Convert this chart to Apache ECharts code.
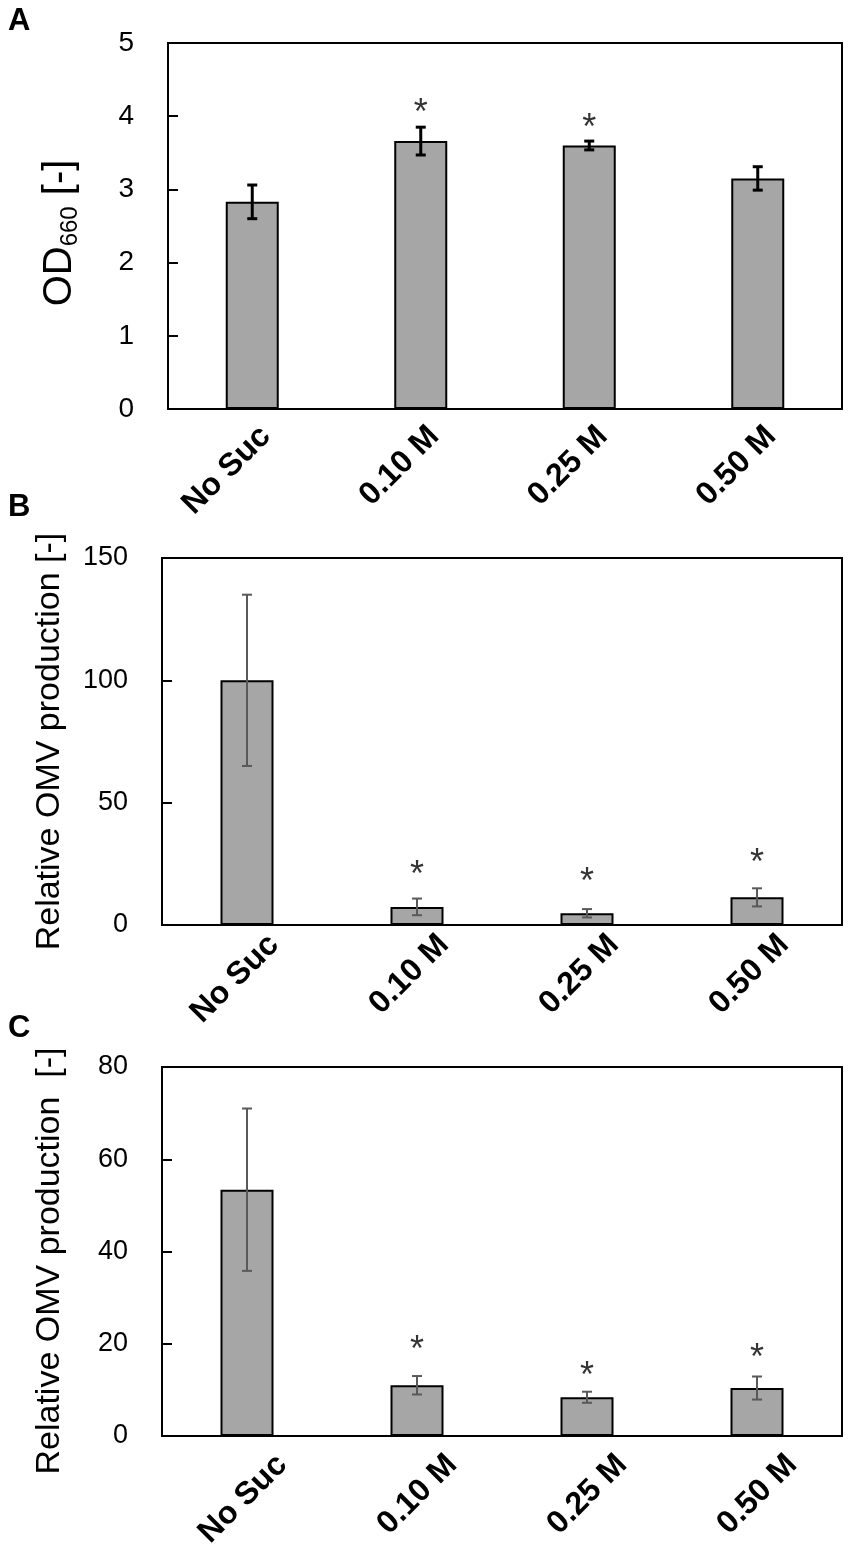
<!DOCTYPE html>
<html>
<head>
    <meta charset="utf-8">
    <title>OD660 and relative OMV production</title>
    <script src="https://cdn.jsdelivr.net/npm/echarts@6/dist/echarts.min.js"></script>
    <style>
        html, body { margin: 0; padding: 0; background: #fff; }
        #chart { width: 851px; height: 1554px; }
    </style>
</head>
<body>
<div id="chart"></div>
<script type="text/javascript">
    // categories on the x axis (same for all three panels)
    var categories = ['No Suc', '0.10 M', '0.25 M', '0.50 M'];

    // panel A: OD660
    var odMean = [2.83, 3.66, 3.60, 3.15];
    var odErr = [0.23, 0.19, 0.06, 0.16];
    var odStar = [null, 4.13, 3.92, null];

    // panel B: relative OMV production
    var omvBMean = [100, 7.4, 4.8, 11.3];
    var omvBErr = [35, 3.4, 1.7, 3.7];
    var omvBStar = [null, 22.9, 20.0, 27.9];

    // panel C: relative OMV production
    var omvCMean = [53.4, 11.0, 8.4, 10.4];
    var omvCErr = [17.6, 2.0, 1.2, 2.5];
    var omvCStar = [null, 19.9, 14.4, 18.1];

    // y axis ticks
    var yTicksA = {min: 0, max: 5, interval: 1};
    var yTicksB = {min: 0, max: 150, interval: 50};
    var yTicksC = {min: 0, max: 80, interval: 20};

    var FONT = 'Liberation Sans, Arial, sans-serif';
    var chart = echarts.init(document.getElementById('chart'));

    function errData(mean, err) {
        return mean.map(function (m, i) { return [i, m - err[i], m + err[i]]; });
    }
    function starData(arr) {
        return arr.map(function (v) { return v == null ? '-' : v; });
    }
    // error bar drawn from the axis coordinates
    function errorBar(color, lw) {
        return function (params, api) {
            var x = api.value(0);
            var lo = api.coord([x, api.value(1)]);
            var hi = api.coord([x, api.value(2)]);
            var hw = 5;
            var st = {stroke: color, lineWidth: lw};
            return {
                type: 'group',
                children: [
                    {type: 'line', shape: {x1: hi[0], y1: hi[1], x2: lo[0], y2: lo[1]}, style: st},
                    {type: 'line', shape: {x1: hi[0] - hw, y1: hi[1], x2: hi[0] + hw, y2: hi[1]}, style: st},
                    {type: 'line', shape: {x1: lo[0] - hw, y1: lo[1], x2: lo[0] + hw, y2: lo[1]}, style: st}
                ]
            };
        };
    }

    // rotated labels; an empty first line of height sp pushes the text down-right
    function xAxisFor(idx, sp, margin) {
        return {
            type: 'category', gridIndex: idx, data: categories,
            axisLine: {lineStyle: {color: '#000', width: 2}},
            axisTick: {show: false},
            axisLabel: {
                rotate: 45, interval: 0, margin: margin,
                formatter: function (v) { return '{sp| }\n{t|' + v + '}'; },
                rich: {
                    sp: {fontSize: 4, lineHeight: sp},
                    t: {fontFamily: FONT, fontSize: 32, fontWeight: 'bold', color: '#000', lineHeight: 34}
                }
            }
        };
    }
    function yAxisFor(idx, ticks, name, nameGap, namePad, fontSize, rich) {
        var ax = {
            type: 'value', gridIndex: idx,
            min: ticks.min, max: ticks.max, interval: ticks.interval,
            name: name, nameLocation: 'middle', nameRotate: 90, nameGap: nameGap,
            nameTextStyle: {fontFamily: FONT, fontSize: 34, color: '#000', padding: namePad},
            axisLine: {show: true, lineStyle: {color: '#000', width: 2}},
            axisTick: {show: true, inside: true, length: 10, lineStyle: {color: '#000', width: 2}},
            axisLabel: {fontFamily: FONT, fontSize: fontSize, color: '#000', margin: 34},
            splitLine: {show: false}
        };
        if (rich) ax.nameTextStyle.rich = rich;
        return ax;
    }
    function barSeries(idx, data) {
        return {
            type: 'bar', xAxisIndex: idx, yAxisIndex: idx, data: data,
            barWidth: 53,
            itemStyle: {color: '#a6a6a6', borderColor: '#000', borderWidth: 2},
            silent: true
        };
    }
    function errSeries(idx, mean, err, color, lw) {
        return {
            type: 'custom', xAxisIndex: idx, yAxisIndex: idx,
            data: errData(mean, err),
            encode: {x: 0, y: [1, 2]},
            renderItem: errorBar(color, lw),
            z: 5, silent: true
        };
    }
    function starSeries(idx, arr) {
        return {
            type: 'scatter', xAxisIndex: idx, yAxisIndex: idx,
            data: starData(arr), symbolSize: 0,
            label: {
                show: true, position: 'inside', formatter: '*',
                fontFamily: FONT, fontSize: 36, color: '#000', offset: [0, 7]
            },
            z: 6, silent: true
        };
    }

    var gridBase = {show: true, borderColor: '#000', borderWidth: 2, backgroundColor: 'transparent'};

    chart.setOption({
        backgroundColor: '#fff',
        animation: false,
        grid: [
            Object.assign({left: 168, right: 9, top: 43, height: 366}, gridBase),
            Object.assign({left: 162, right: 9, top: 558, height: 367}, gridBase),
            Object.assign({left: 162, right: 9, top: 1067, height: 369}, gridBase)
        ],
        xAxis: [
            xAxisFor(0, 38, 9),
            xAxisFor(1, 76, -12),
            xAxisFor(2, 99, -11)
        ],
        yAxis: [
            yAxisFor(0, yTicksA, '{m|OD}{s|660}{m| [-]}', 86, [0, 14, 0, 0], 28, {
                m: {fontFamily: FONT, fontSize: 40, color: '#000'},
                s: {fontFamily: FONT, fontSize: 24, color: '#000', verticalAlign: 'bottom', padding: [20, 0, 0, 0]}
            }),
            yAxisFor(1, yTicksB, 'Relative OMV production [-]', 95, 0, 27),
            yAxisFor(2, yTicksC, 'Relative OMV production  [-]', 95, [0, 19, 0, 0], 27)
        ],
        graphic: [
            {type: 'text', left: 8, top: 6, style: {text: 'A', font: 'bold 31px ' + FONT, fill: '#000'}},
            {type: 'text', left: 8, top: 492, style: {text: 'B', font: 'bold 31px ' + FONT, fill: '#000'}},
            {type: 'text', left: 8, top: 1013, style: {text: 'C', font: 'bold 31px ' + FONT, fill: '#000'}}
        ],
        series: [
            barSeries(0, odMean),
            errSeries(0, odMean, odErr, '#000', 3),
            starSeries(0, odStar),
            barSeries(1, omvBMean),
            errSeries(1, omvBMean, omvBErr, '#595959', 2),
            starSeries(1, omvBStar),
            barSeries(2, omvCMean),
            errSeries(2, omvCMean, omvCErr, '#595959', 2),
            starSeries(2, omvCStar)
        ]
    });
</script>
</body>
</html>
